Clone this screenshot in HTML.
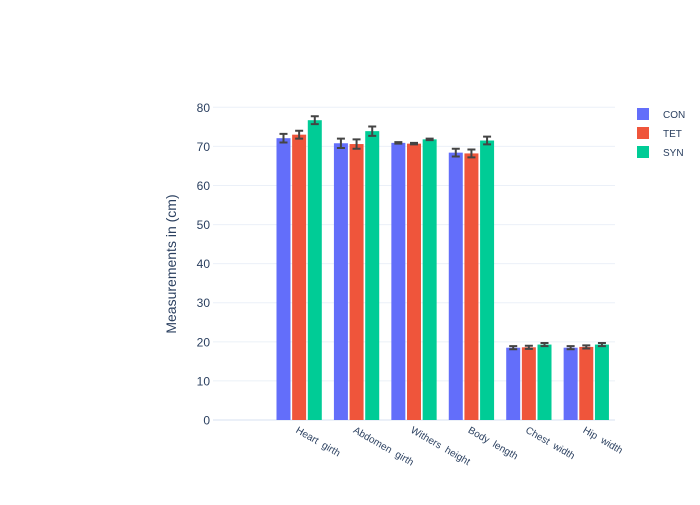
<!DOCTYPE html>
<html><head><meta charset="utf-8"><style>
body{margin:0;background:#fff;font-family:"Liberation Sans",sans-serif}
svg text{font-family:"Liberation Sans",sans-serif;fill:#2a3f5f}
</style></head><body>
<svg id="chart" width="700" height="500" xmlns="http://www.w3.org/2000/svg"></svg>
<script>
const categories=["","Heart  girth","Abdomen  girth","Withers  height","Body  length","Chest  width","Hip  width"];
const seriesNames=["CON","TET","SYN"];
const conValues=[null,72.1,70.8,70.9,68.4,18.5,18.5];
const tetValues=[null,73.0,70.6,70.7,68.2,18.6,18.7];
const synValues=[null,76.7,73.9,71.8,71.5,19.3,19.3];
const conErr=[0,1.1,1.2,0.2,1.0,0.4,0.4];
const tetErr=[0,1.0,1.2,0.2,1.0,0.4,0.4];
const synErr=[0,1.0,1.2,0.2,1.0,0.4,0.4];
const yTicks=[0,10,20,30,40,50,60,70,80];
const colors=["#636efa","#EF553B","#00cc96"];
const NS="http://www.w3.org/2000/svg";
const svg=document.getElementById('chart');
const X0=213,X1=615,Y0=420,YTOP=107.3,YMAX=80;
const band=(X1-X0)/categories.length;
const y=v=>Y0-(v/YMAX)*(Y0-YTOP);
const xc=i=>X0+band*(i+0.5);
function mk(t,a){const e=document.createElementNS(NS,t);for(const k in a)e.setAttribute(k,a[k]);svg.appendChild(e);return e;}
yTicks.forEach(t=>{
  const g=mk('line',{x1:X0,x2:X1,y1:y(t),y2:y(t),stroke:t===0?'#ebf0f8':'#ebf0f8','stroke-width':t===0?2:1});
  
  
  const l=mk('text',{x:210,y:y(t)+4.5,'text-anchor':'end','font-size':12});
  l.textContent=t;
  
  
});
const vals=[conValues,tetValues,synValues],errs=[conErr,tetErr,synErr];
const bw=14,gap=1.5;
categories.forEach((c,i)=>{
  vals.forEach((s,j)=>{
    if(s[i]==null)return;
    const cx=xc(i)+(j-1)*(bw+gap*1.1);
    const r=mk('rect',{x:cx-bw/2,y:y(s[i]),width:bw,height:Y0-y(s[i]),fill:colors[j]});
    
    
    const e=errs[j][i],t=y(s[i]+e),b=y(s[i]-e);
    const p=mk('path',{d:`M${cx},${t}V${b}M${cx-4},${t}H${cx+4}M${cx-4},${b}H${cx+4}`,stroke:'#444','stroke-width':2,fill:'none'});
    
    
  });
  if(c){
    const tx=xc(i)-4,ty=Y0+12;
    const l=mk('text',{x:tx,y:ty,'font-size':10,transform:`rotate(30 ${tx} ${ty})`});
    l.setAttribute('xml:space','preserve');
    l.style.whiteSpace='pre';
    l.textContent=c;
    
    
  }
});
const yt=mk('text',{x:176,y:264,'text-anchor':'middle','font-size':14,transform:'rotate(-90 176 264)'});
yt.textContent='Measurements in (cm)';


seriesNames.forEach((n,j)=>{
  const yy=108+j*19;
  const r=mk('rect',{x:637,y:yy,width:12,height:12,fill:colors[j]});
  
  
  const t=mk('text',{x:663,y:yy+10,'font-size':10});
  t.textContent=n;
  
  
});
</script>
</body></html>
